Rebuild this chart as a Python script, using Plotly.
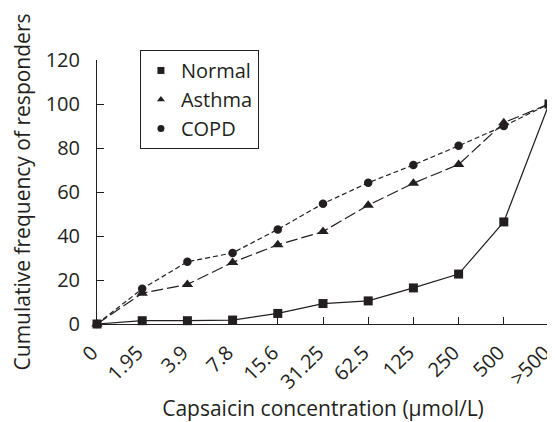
import plotly.graph_objects as go

categories = ["0", "1.95", "3.9", "7.8", "15.6", "31.25", "62.5", "125", "250", "500", ">500"]
normal = [0, 1.5, 1.5, 1.8, 4.8, 9.3, 10.5, 16.4, 22.7, 46.4, 100]
asthma = [0, 14, 18, 28, 36, 42, 54, 64, 72.5, 91.5, 100]
copd = [0, 16, 28.3, 32.3, 43, 54.7, 64.2, 72.3, 81, 90, 100]
y_ticks = [0, 20, 40, 60, 80, 100, 120]

FONT = "Open Sans"
INK = "#231f20"
fig = go.Figure()

series = [
    ("Normal", normal, "square", "solid", 9),
    ("Asthma", asthma, "triangle-up", "12px,4px", 10),
    ("COPD", copd, "circle", "5px,3px", 8.5),
]
for name, vals, sym, dash, size in series:
    fig.add_trace(go.Scatter(
        x=categories, y=vals, mode="lines+markers", name=name, showlegend=False,
        line=dict(color=INK, width=1.2, dash=dash),
        marker=dict(symbol=sym, size=size, color=INK),
        cliponaxis=False,
    ))
for name, vals, sym, dash, size in series:
    fig.add_trace(go.Scatter(
        x=[None], y=[None], mode="markers", name=name,
        marker=dict(symbol=sym, size=7, color=INK),
    ))

# page body has an 8px margin; figure sized so plot lands at the reference position
fig.update_layout(
    width=547, height=414,
    margin=dict(l=89, r=6, t=52, b=98),
    paper_bgcolor="white", plot_bgcolor="white",
    font=dict(family=FONT, size=20, color=INK),
    legend=dict(
        x=0.095, y=1.038, xanchor="left", yanchor="top",
        bordercolor=INK, borderwidth=1, bgcolor="white",
        font=dict(size=20), itemsizing="trace", tracegroupgap=0,
        itemwidth=30,
    ),
    xaxis=dict(
        type="category", categoryorder="array", categoryarray=categories,
        range=[0, 10], tickangle=-45, ticks="inside", ticklen=7,
        tickcolor=INK, showline=True, linecolor=INK, linewidth=1,
        showgrid=False, zeroline=False, tickfont=dict(size=20), automargin=False,
        ticklabelstandoff=8, ticklabelshift=-5,
        title=dict(text="Capsaicin concentration (μmol/L)", font=dict(size=21), standoff=14),
    ),
    yaxis=dict(
        range=[0, 120], tickvals=y_ticks, ticks="inside", ticklen=7,
        tickcolor=INK, showline=True, linecolor=INK, linewidth=1,
        showgrid=False, zeroline=False, tickfont=dict(size=20), automargin=False,
        ticklabelstandoff=12,
        title=dict(text="Cumulative frequency of responders", font=dict(size=21), standoff=14),
    ),
)
fig.write_html("out.html")
